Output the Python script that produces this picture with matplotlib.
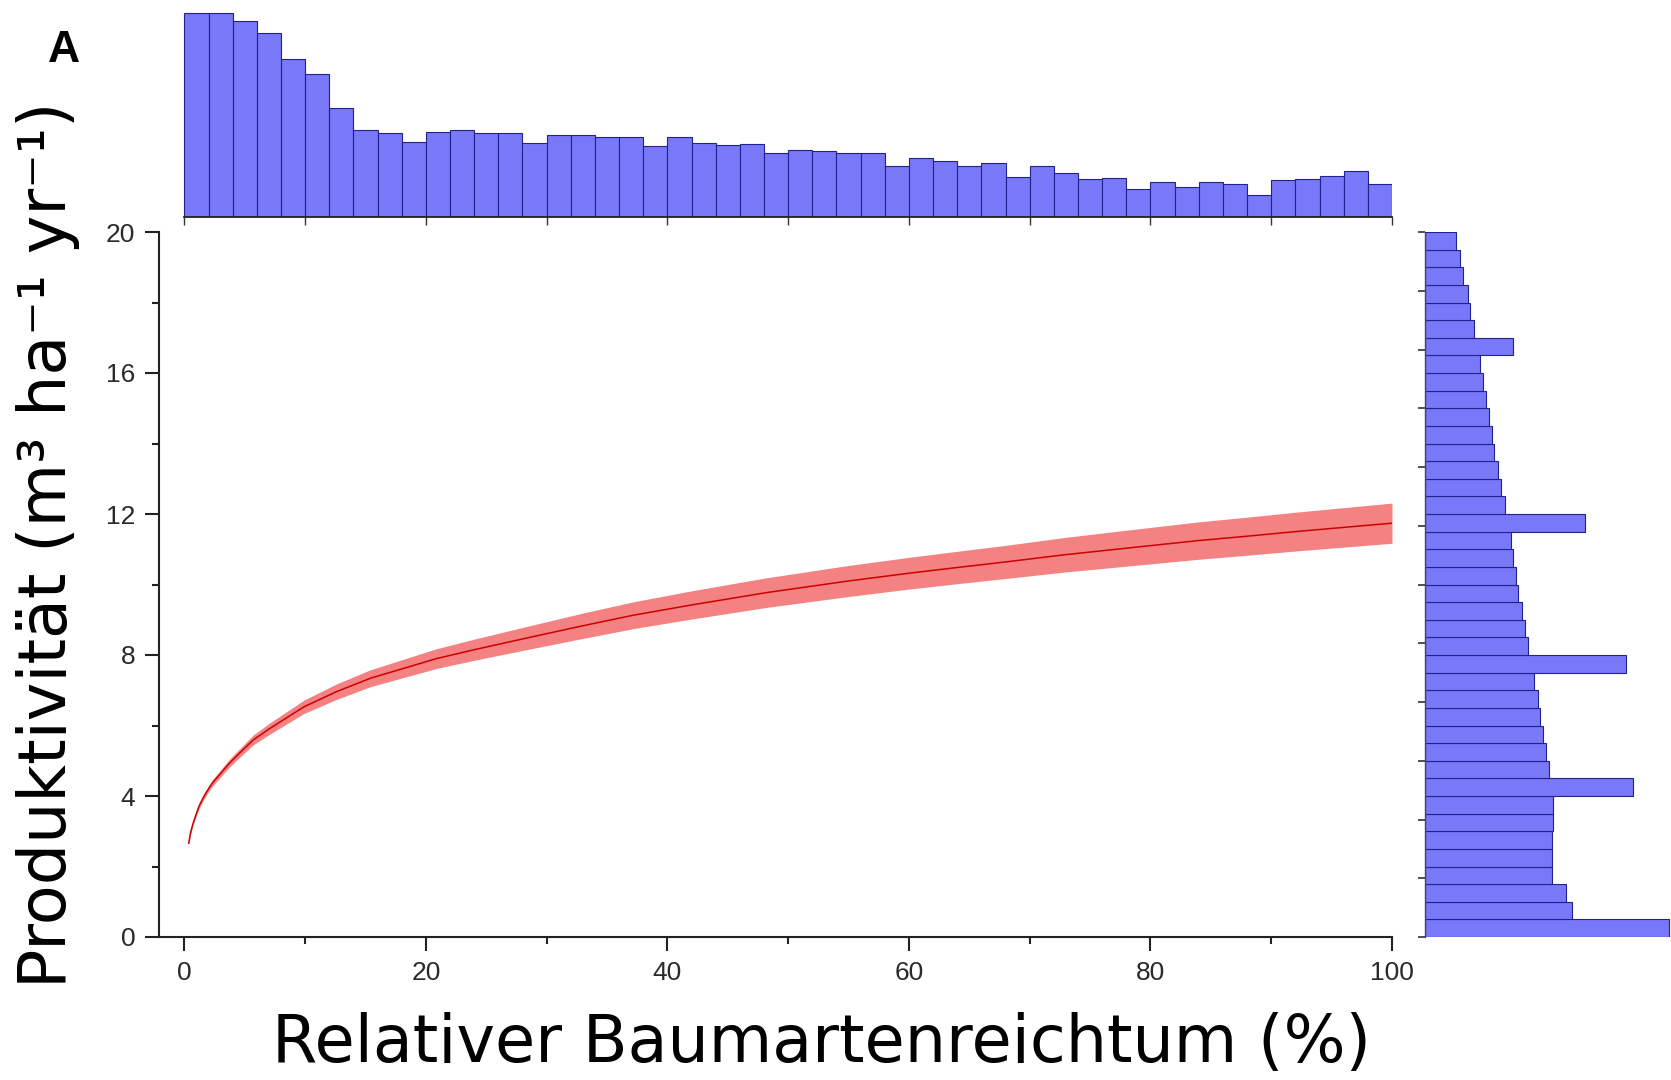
import numpy as np
import matplotlib
matplotlib.use("Agg")
import matplotlib.pyplot as plt

# ---------------- data ----------------
# fitted curve: relative tree species richness (%) vs productivity
curve_x = [0.36, 0.5, 0.7, 0.9, 1.2, 1.6, 2.0, 2.3, 3.0, 3.7, 4.4, 5.7, 7.1, 9.9, 12.6, 15.4,
           20.9, 24.0, 28.6, 33.0, 37.2, 42.0, 48.2, 55.0, 60.0, 64.2, 68.0, 72.8, 78.0,
           83.8, 88.0, 92.0, 96.0, 100.0]
curve_y = [2.66, 2.94, 3.20, 3.41, 3.70, 3.98, 4.20, 4.36, 4.64, 4.92, 5.16, 5.59, 5.92, 6.53,
           6.96, 7.34, 7.90, 8.15, 8.50, 8.83, 9.13, 9.42, 9.77, 10.10, 10.32, 10.49, 10.64,
           10.84, 11.03, 11.24, 11.37, 11.50, 11.62, 11.74]
curve_half_ci = [0.04, 0.05, 0.05, 0.06, 0.07, 0.08, 0.08, 0.09, 0.10, 0.11, 0.12, 0.14, 0.16,
                 0.19, 0.22, 0.24, 0.28, 0.30, 0.33, 0.36, 0.38, 0.40, 0.42, 0.44, 0.45, 0.46,
                 0.47, 0.49, 0.51, 0.53, 0.54, 0.55, 0.56, 0.57]

# top marginal histogram (bins of 2 % richness, relative counts)
top_bin_width = 2
top_counts = [203.7, 204.3, 196.3, 183.7, 157.7, 142.7, 108.7, 87.0, 84.3, 75.3,
              85.3, 87.0, 84.3, 84.3, 73.7, 82.0, 82.0, 79.7, 80.3, 71.3,
              79.7, 74.3, 72.0, 72.7, 63.7, 67.0, 66.0, 64.3, 63.7, 51.0,
              58.7, 56.0, 51.0, 53.7, 40.3, 51.0, 43.7, 37.7, 38.7, 27.7,
              35.3, 30.3, 35.3, 32.7, 22.0, 37.0, 37.7, 41.0, 46.0, 32.7]

# right marginal histogram (bins of 0.5 productivity units, from 0 upward)
right_bin_width = 0.5
right_counts = [244, 147, 141, 127, 127, 127, 128, 128, 208, 124,
                121, 118, 115, 113, 109, 201, 103, 100, 97, 93,
                91, 88, 86, 160, 80, 76, 73, 69, 67, 64,
                61, 58, 55, 88, 49, 45, 43, 37.7, 35, 31]

x_major = [0, 20, 40, 60, 80, 100]
x_minor = [10, 30, 50, 70, 90]
y_major = [0, 4, 8, 12, 16, 20]
y_minor = [2, 6, 10, 14, 18]

xlabel = "Relativer Baumartenreichtum (%)"
ylabel = "Produktivität (m³ ha⁻¹ yr⁻¹)"
panel = "A"

# ---------------- style ----------------
W, H = 1671, 1080
bar_face = "#7878f8"
bar_edge = "#22228c"
band_col = "#f48282"
line_col = "#cc0000"
tick_font = ["Liberation Sans", "DejaVu Sans"]

fig = plt.figure(figsize=(W / 100, H / 100), dpi=100)

def box(l, t, r, b):
    return [l / W, 1 - b / H, (r - l) / W, (b - t) / H]

# main axes
ax = fig.add_axes(box(159, 232, 1392, 937))
cx = np.array(curve_x)
cy = np.array(curve_y)
ch = np.array(curve_half_ci)
ax.fill_between(cx, cy - ch, cy + ch, color=band_col, lw=0)
ax.plot(cx, cy, color=line_col, lw=1.1)
ax.set_xlim(-2.1, 100)
ax.set_ylim(0, 20)
for s in ("top", "right"):
    ax.spines[s].set_visible(False)
for s in ("left", "bottom"):
    ax.spines[s].set_linewidth(1.5)
    ax.spines[s].set_color("#222222")
ax.set_xticks(x_major)
ax.set_xticks(x_minor, minor=True)
ax.set_yticks(y_major)
ax.set_yticks(y_minor, minor=True)
ax.tick_params(which="major", length=10, width=1.5, color="#222222",
               labelsize=19, pad=7, labelcolor="#2a2a2a")
ax.tick_params(which="minor", length=5, width=1.5, color="#222222")
for lab in ax.get_xticklabels() + ax.get_yticklabels():
    lab.set_family(tick_font)

# top marginal histogram
axt = fig.add_axes(box(159, 12, 1392, 217))
top_left = np.arange(len(top_counts)) * top_bin_width
axt.bar(top_left, top_counts, width=top_bin_width, align="edge",
        color=bar_face, edgecolor=bar_edge, linewidth=0.8)
axt.set_xlim(-2.1, 100)
axt.set_ylim(0, 205)
for s in ("top", "right", "left"):
    axt.spines[s].set_visible(False)
axt.spines["bottom"].set_bounds(0, 100)
axt.spines["bottom"].set_linewidth(1.3)
axt.spines["bottom"].set_color("#222222")
axt.set_xticks(range(0, 101, 10))
axt.set_xticklabels([])
axt.set_yticks([])
axt.tick_params(axis="x", length=6, width=1.0, color="#333333")

# right marginal histogram
axr = fig.add_axes(box(1425, 232, 1671, 937))
right_bottom = np.arange(len(right_counts)) * right_bin_width
axr.barh(right_bottom, right_counts, height=right_bin_width, align="edge",
         color=bar_face, edgecolor=bar_edge, linewidth=0.8)
axr.set_xlim(0, 246)
axr.set_ylim(0, 20)
for s in ("top", "right", "bottom"):
    axr.spines[s].set_visible(False)
axr.spines["left"].set_linewidth(1.0)
axr.spines["left"].set_color("#444466")
axr.set_xticks([])
axr.set_yticks(np.linspace(0, 20, 13))
axr.set_yticklabels([])
axr.tick_params(axis="y", length=5, width=1.2, color="#333333")

# texts
fig.text(64 / W, 1 - 50 / H, panel, fontsize=32, fontweight="bold",
         family=["Liberation Sans Narrow", "Liberation Sans"], ha="center", va="center")
fig.text(821 / W, 1 - 1044 / H, xlabel, fontsize=47,
         family=["DejaVu Sans"], ha="center", va="center")
fig.text(48 / W, 1 - 545 / H, ylabel, fontsize=47,
         family=["DejaVu Sans"], ha="center", va="center", rotation=90)

fig.savefig("out.png", dpi=100)
